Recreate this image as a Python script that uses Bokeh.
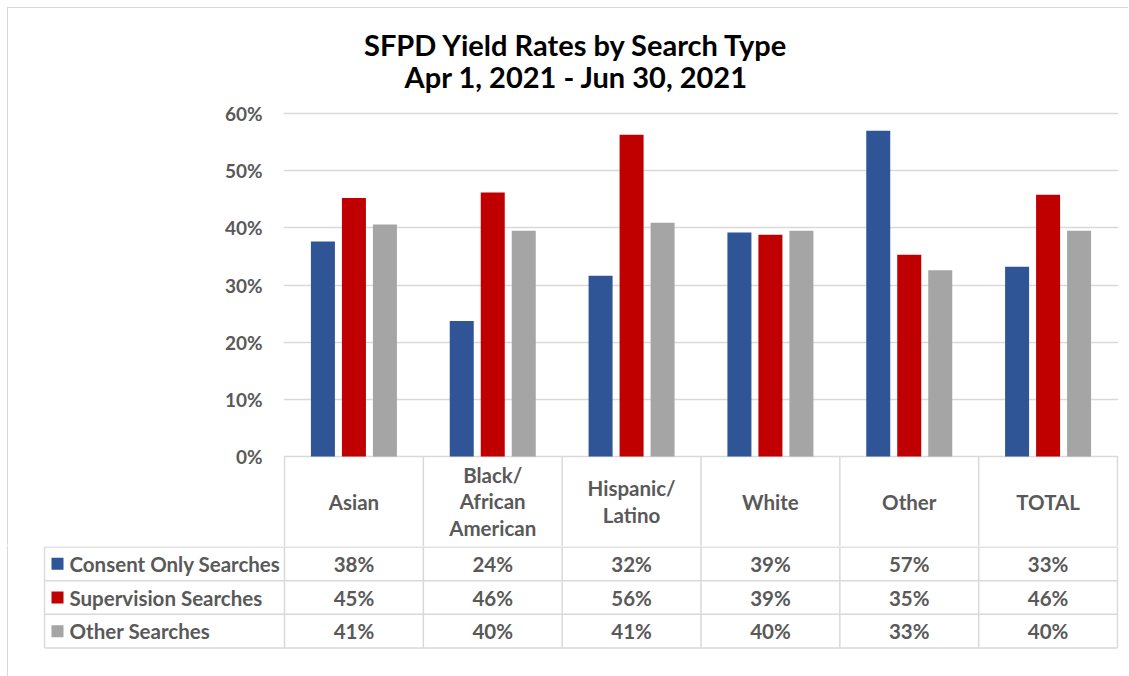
import numpy as np
from bokeh.plotting import figure
from bokeh.models import Range1d, FixedTicker, PrintfTickFormatter
from bokeh.embed import file_html
from bokeh.resources import INLINE
from bokeh.core.properties import value

# ---------------- data ----------------
categories = ["Asian", "Black/\nAfrican\nAmerican", "Hispanic/\nLatino", "White", "Other", "TOTAL"]
series_names = ["Consent Only Searches", "Supervision Searches", "Other Searches"]
consent = [37.6, 23.7, 31.6, 39.2, 57.0, 33.2]
supervision = [45.2, 46.2, 56.3, 38.8, 35.3, 45.8]
other = [40.6, 39.5, 40.9, 39.5, 32.6, 39.5]
series_colors = ["#2F5597", "#C00000", "#A5A5A5"]
y_ticks = [0, 10, 20, 30, 40, 50, 60]
title_lines = ["SFPD Yield Rates by Search Type", "Apr 1, 2021 - Jun 30, 2021"]

# ---------------- style / layout ----------------
FONT = "Lato"
TXT = "#595959"
LINE = "#D9D9D9"
W = 1121
CELL = 138.83          # px per category
PXP = 5.717            # px per percent
TOP_H = 538            # page y 8 .. 546
FL, FR = 275, 11
TFS = "20.5px"

y_end = 60 + (113 - 8) / PXP      # canvas top (page y 8); 60% line at page y 113
y_start = y_end - TOP_H / PXP
x0 = -0.5 - 1 / CELL
x1 = 5.5 + 1 / CELL
xs = np.arange(len(categories))


def px_to_x(px):
    return -0.5 + (px - 284) / CELL


def py_to_y(py):
    return y_end - (py - 8) / PXP


p = figure(width=W, height=TOP_H, x_range=Range1d(x0, x1), y_range=Range1d(y_start, y_end),
           output_backend="svg", toolbar_location=None, title=None,
           min_border_left=FL, min_border_right=FR, min_border_top=0, min_border_bottom=0,
           x_axis_location=None,
           styles={"margin-left": "8px", "margin-top": "8px",
                   "box-shadow": "-1px -1px 0 0 #d9d9d9"})
p.outline_line_color = None

ax = p.yaxis[0]
ax.ticker = FixedTicker(ticks=y_ticks)
ax.formatter = PrintfTickFormatter(format="%d%%")
ax.axis_line_color = None
ax.major_tick_line_color = None
ax.minor_tick_line_color = None
ax.major_tick_out = 0
ax.major_tick_in = 0
ax.major_label_standoff = 21
ax.major_label_text_font = FONT
ax.major_label_text_font_size = "19px"
ax.major_label_text_font_style = "bold"
ax.major_label_text_color = TXT
p.xgrid.visible = False
p.ygrid.grid_line_color = LINE
p.ygrid.grid_line_width = 1.5

# chart title
p.text(x=[px_to_x(576)] * 2, y=[py_to_y(44), py_to_y(76)], text=title_lines, text_align="center",
       text_baseline="middle", text_font=value(FONT), text_font_size="29px",
       text_font_style="bold", text_color="black")

offsets = [-31 / CELL, 0, 31 / CELL]
for vals, off, col in zip([consent, supervision, other], offsets, series_colors):
    p.vbar(x=xs + off, top=vals, bottom=0, width=24 / CELL, fill_color=col, line_color=None)

bounds = np.arange(-0.5, len(categories) + 0.5, 1.0)
p.segment(x0=bounds, y0=[0] * len(bounds), x1=bounds, y1=[y_start] * len(bounds),
          line_color=LINE, line_width=1.5)
p.text(x=xs, y=[py_to_y(501)] * len(xs), text=categories, text_align="center",
       text_baseline="middle", text_font=value(FONT), text_font_size=TFS, text_font_style="bold",
       text_color=TXT, text_line_height=1.1)

# ---------------- data table ----------------
BOT_H = 130
ROW = 33.67
by_end = 3 + 0.5 / ROW
by_start = by_end - BOT_H / ROW
bx0 = px_to_x(43)
bx1 = x1
table_left = px_to_x(44)

t = figure(width=W, height=BOT_H, x_range=Range1d(bx0, bx1), y_range=Range1d(by_start, by_end),
           output_backend="svg", toolbar_location=None, title=None,
           min_border_left=35, min_border_right=FR, min_border_top=0, min_border_bottom=0,
           x_axis_location=None, y_axis_location=None,
           styles={"margin-left": "8px", "box-shadow": "-1px 0 0 0 #d9d9d9"})
t.outline_line_color = None
t.xgrid.visible = False
t.ygrid.visible = False

n_rows = len(series_names)
hy = list(range(n_rows + 1))
t.segment(x0=[table_left] * len(hy), y0=hy, x1=[5.5] * len(hy), y1=hy, line_color=LINE, line_width=1.5)
vx = [table_left] + list(bounds)
t.segment(x0=vx, y0=[0] * len(vx), x1=vx, y1=[n_rows] * len(vx), line_color=LINE, line_width=1.5)

row_y = [n_rows - 0.5 - i for i in range(n_rows)]
t.scatter(x=[px_to_x(57)] * n_rows, y=row_y, marker="square", size=12,
          fill_color=series_colors, line_color=None)
t.text(x=[px_to_x(69)] * n_rows, y=row_y, text=series_names, text_align="left",
       text_baseline="middle", text_font=value(FONT), text_font_size=TFS, text_font_style="bold",
       text_color=TXT)
for vals, yy in zip([consent, supervision, other], row_y):
    t.text(x=xs, y=[yy] * len(xs), text=[f"{int(v + 0.5)}%" for v in vals], text_align="center",
           text_baseline="middle", text_font=value(FONT), text_font_size=TFS,
           text_font_style="bold", text_color=TXT)

open("out.html", "w").write(file_html([p, t], INLINE))
